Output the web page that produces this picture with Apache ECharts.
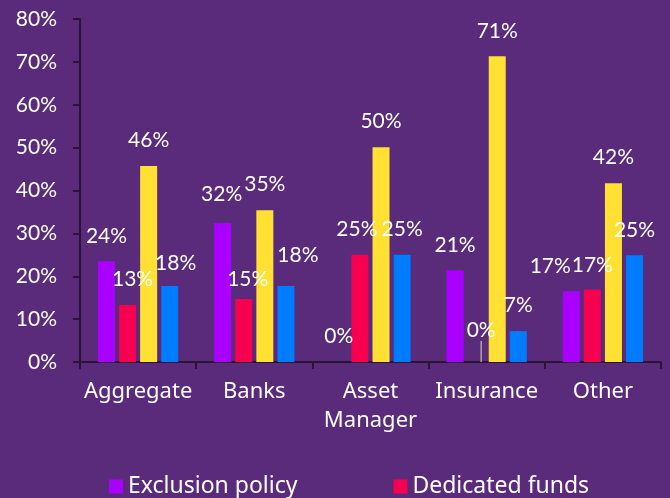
<!DOCTYPE html>
<html>
<head>
<meta charset="utf-8">
<script src="https://cdn.jsdelivr.net/npm/echarts@6/dist/echarts.min.js"></script>
<style>
html,body{margin:0;padding:0;background:#5a2a7b;}
#c{width:670px;height:498px;}
</style>
</head>
<body>
<div id="c"></div>
<script>
const categories = ['Aggregate', 'Banks', 'Asset\nManager', 'Insurance', 'Other'];
const exclusionPolicy = [23.5, 32.4, 0, 21.4, 16.5];
const dedicatedFunds = [13.3, 14.7, 25, 0, 16.9];
const series3 = [45.7, 35.4, 50.1, 71.3, 41.7];
const series4 = [17.7, 17.7, 25, 7.2, 24.9];
const yTicks = [0, 10, 20, 30, 40, 50, 60, 70, 80];
const legendNames = ['Exclusion policy', 'Dedicated funds'];

// label nudges [dx, dy] keyed "seriesIndex-dataIndex" (styling only)
const labelNudge = {
  '0-1': [-1, -3], '1-0': [5, 0], '3-0': [6, 3],
  '1-1': [4, 6], '3-1': [12, -5],
  '1-2': [-3, 0],
  '1-3': [5, -6],
  '0-4': [-21, 0], '1-4': [0, 1]
};

const FONT = 'Lato';
const chart = echarts.init(document.getElementById('c'), null, {renderer: 'canvas'});

function mk(idx, name, data, color) {
  return {
    name: name,
    type: 'bar',
    data: data.map((v, i) => {
      const item = {value: v};
      if (idx === 1 && i === 3) {
        item.labelLine = {show: true, lineStyle: {color: '#a9a9a9', width: 1.5}};
      }
      return item;
    }),
    barWidth: 17,
    barGap: '24%',
    itemStyle: {color: color},
    label: {
      show: true,
      position: 'top',
      distance: 15,
      color: '#ffffff',
      fontFamily: FONT,
      fontSize: 21,
      formatter: p => Math.round(p.value) + '%'
    },
    labelLayout: function (p) {
      const n = labelNudge[idx + '-' + p.dataIndex];
      return n ? {dx: n[0], dy: n[1]} : {};
    }
  };
}

const s = [
  mk(0, legendNames[0], exclusionPolicy, '#aa00ff'),
  mk(1, legendNames[1], dedicatedFunds, '#f7004f'),
  mk(2, 'Series 3', series3, '#ffe033'),
  mk(3, 'Series 4', series4, '#007cff')
];

chart.setOption({
  backgroundColor: '#5a2a7b',
  animation: false,
  grid: {left: 80, right: 9, top: 19, bottom: 136},
  legend: {
    data: legendNames,
    top: 470,
    left: 104,
    itemWidth: 14,
    itemHeight: 14,
    itemGap: 96,
    icon: 'rect',
    textStyle: {color: '#ffffff', fontFamily: 'Noto Sans', fontSize: 23}
  },
  xAxis: {
    type: 'category',
    data: categories,
    axisLine: {lineStyle: {color: '#2a1436', width: 2}},
    axisTick: {show: true, length: 7, lineStyle: {color: '#2a1436', width: 2}},
    axisLabel: {color: '#ffffff', fontFamily: 'Noto Sans', fontSize: 22, margin: 15, lineHeight: 29, interval: 0}
  },
  yAxis: {
    type: 'value',
    min: yTicks[0],
    max: yTicks[yTicks.length - 1],
    interval: 10,
    splitLine: {show: false},
    axisLine: {show: true, lineStyle: {color: '#2a1436', width: 2}},
    axisTick: {show: true, length: 7, lineStyle: {color: '#2a1436', width: 2}},
    axisLabel: {color: '#ffffff', fontFamily: FONT, fontSize: 21, margin: 23, formatter: '{value}%'}
  },
  series: s
});
</script>
</body>
</html>
